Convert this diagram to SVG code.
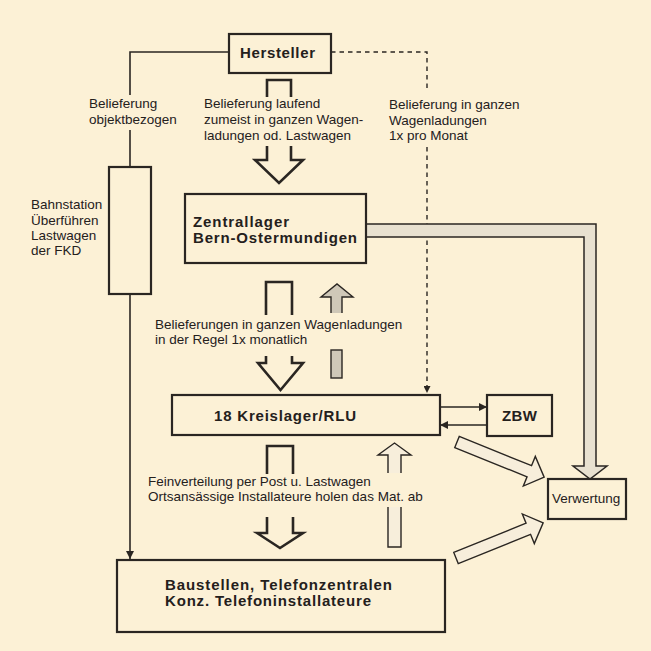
<svg xmlns="http://www.w3.org/2000/svg" width="651" height="651" viewBox="0 0 651 651">
<defs>
<style>
.box{fill:none;stroke:#2a2622;stroke-width:2.2}
.ln{fill:none;stroke:#2a2622;stroke-width:1.6}
.hol{fill:none;stroke:#2a2622;stroke-width:2.6;stroke-linejoin:miter}
.thin{fill:#f7eedb;stroke:#2a2622;stroke-width:1.4;stroke-linejoin:miter}
.gray{fill:#cfc8b8;stroke:#2a2622;stroke-width:1.4}
.pipe{fill:#e8e1d0;stroke:#2a2622;stroke-width:1.5}
.dash{fill:none;stroke:#2a2622;stroke-width:1.4;stroke-dasharray:4.5 4}
.t{font-family:"Liberation Sans",Arial,sans-serif;font-size:13.5px;fill:#24201c}
.b{font-family:"Liberation Sans",Arial,sans-serif;font-size:15px;font-weight:bold;fill:#24201c}
</style>
<marker id="ah" viewBox="0 0 10 10" refX="10" refY="5" markerWidth="10" markerHeight="8" markerUnits="userSpaceOnUse" orient="auto">
<path d="M0,0 L10,5 L0,10 Z" fill="#2a2622"/>
</marker>
<marker id="ahs" viewBox="0 0 10 10" refX="10" refY="5" markerWidth="8" markerHeight="7" markerUnits="userSpaceOnUse" orient="auto">
<path d="M0,0 L10,5 L0,10 Z" fill="#2a2622"/>
</marker>
</defs>
<rect width="651" height="651" fill="#fcf1d6"/>

<g id="connectors">
<path class="ln" d="M229,52 H130 V95"/>
<path class="ln" d="M130,130 V167"/>
<path class="ln" d="M130,294 V559" marker-end="url(#ah)"/>
<path class="dash" d="M331,52 H427 V92"/>
<path class="dash" d="M427,147 V393" marker-end="url(#ahs)"/>
<path class="hol" d="M267,97 V80 H291 V97"/>
<path class="hol" d="M267,146 V160 H255 L279,183 L303,160 H291 V146"/>
<path class="hol" d="M266,315 V282 H292 V315"/>
<path class="hol" d="M266,356 V363 H258 L280.5,390 L303,363 H292 V356"/>
<path class="gray" d="M331,313 V297 H321 L337,284 L353,297 H342 V313"/>
<rect class="gray" x="331" y="350" width="11" height="28"/>
<path class="hol" d="M267,474 V446 H293 V474"/>
<path class="hol" d="M267,517 V533 H257 L280,548 L303,533 H293 V517"/>
<path class="thin" d="M388,473 V455 H378 L394.5,443 L411,455 H401 V473"/>
<path class="thin" d="M388,507 V547 H401 V507"/>
<path class="ln" d="M440,407 H487" marker-end="url(#ah)"/>
<path class="ln" d="M487,425 H440" marker-end="url(#ah)"/>
<path class="pipe" d="M366,224 H596 V466 H607 L590,479 L573,466 H584 V237 H366"/>
<path class="thin" transform="translate(457,442) rotate(22)" d="M0,-6 H78 V-16 L94,0 L78,16 V6 H0 Z"/>
<path class="thin" transform="translate(456,558) rotate(-22)" d="M0,-6 H78 V-16 L94,0 L78,16 V6 H0 Z"/>
</g>

<g id="hersteller">
<rect class="box" x="229" y="34" width="102" height="39"/>
<text class="b" x="240" y="58" textLength="75" lengthAdjust="spacing">Hersteller</text>
</g>
<g id="bahnstation">
<rect class="box" x="109" y="167" width="42" height="127"/>
</g>
<g id="zentrallager">
<rect class="box" x="185" y="194" width="181" height="69"/>
<text class="b" x="193" y="227" textLength="96" lengthAdjust="spacing">Zentrallager</text>
<text class="b" x="193" y="243" textLength="164" lengthAdjust="spacing">Bern-Ostermundigen</text>
</g>
<g id="kreislager">
<rect class="box" x="172" y="395" width="268" height="40"/>
<text class="b" x="214" y="421" textLength="142" lengthAdjust="spacing">18  Kreislager/RLU</text>
</g>
<g id="zbw">
<rect class="box" x="487" y="395" width="65" height="41"/>
<text class="b" x="502" y="421" textLength="35" lengthAdjust="spacing">ZBW</text>
</g>
<g id="verwertung">
<rect class="box" x="548" y="479" width="78" height="40"/>
<text class="t" x="552" y="503" font-size="13">Verwertung</text>
</g>
<g id="baustellen">
<rect class="box" x="117" y="560" width="328" height="72"/>
<text class="b" x="165" y="590" textLength="227" lengthAdjust="spacing">Baustellen,  Telefonzentralen</text>
<text class="b" x="165" y="606" textLength="206" lengthAdjust="spacing">Konz.  Telefoninstallateure</text>
</g>

<g id="labels">
<text class="t" x="89" y="108">Belieferung</text>
<text class="t" x="89" y="124">objektbezogen</text>
<text class="t" x="204" y="108">Belieferung laufend</text>
<text class="t" x="204" y="124">zumeist in ganzen Wagen-</text>
<text class="t" x="204" y="140">ladungen od. Lastwagen</text>
<text class="t" x="389" y="109">Belieferung in ganzen</text>
<text class="t" x="389" y="125">Wagenladungen</text>
<text class="t" x="389" y="140">1x pro Monat</text>
<text class="t" x="31" y="209" font-size="13">Bahnstation</text>
<text class="t" x="31" y="224.5" font-size="13">Überführen</text>
<text class="t" x="31" y="240" font-size="13">Lastwagen</text>
<text class="t" x="31" y="255" font-size="13">der FKD</text>
<text class="t" x="155" y="329">Belieferungen in ganzen Wagenladungen</text>
<text class="t" x="155" y="344">in der Regel 1x monatlich</text>
<text class="t" x="148" y="486" font-size="13">Feinverteilung per Post u. Lastwagen</text>
<text class="t" x="148" y="501" font-size="13">Ortsansässige Installateure holen das Mat. ab</text>
</g>
</svg>
